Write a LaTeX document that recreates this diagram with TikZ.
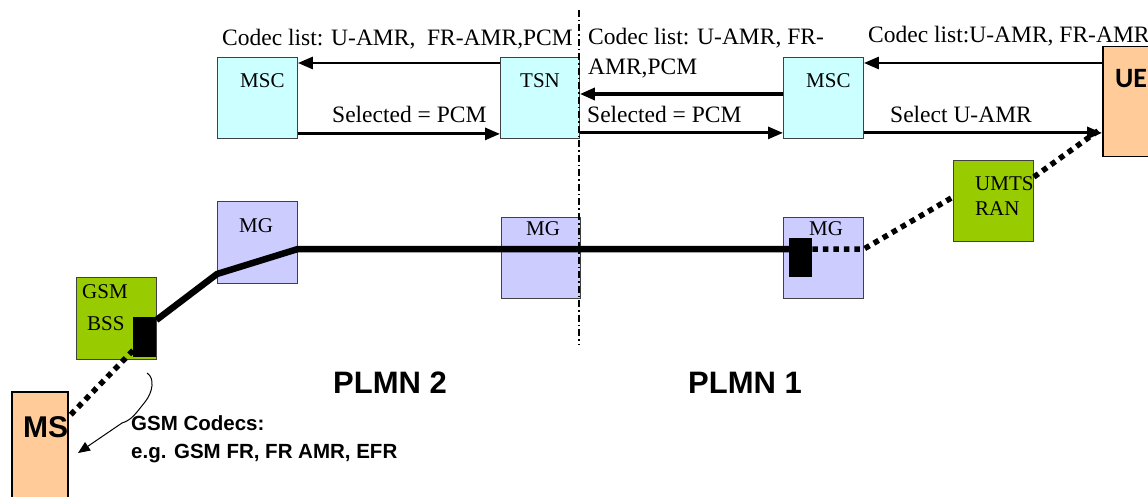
\documentclass[tikz,border=0pt]{standalone}
\usepackage{fontspec}
\setmainfont{Liberation Serif}
\setsansfont{Liberation Sans}
\newfontfamily\calibri{Carlito}
\usepackage{xcolor}
\usepackage{tikz}
\usetikzlibrary{
  positioning,
  calc,
  arrows.meta
}

\definecolor{corecyan}{HTML}{CCFFFF}
\definecolor{mgblue}{HTML}{CCCCFF}
\definecolor{rangreen}{HTML}{99CC00}
\definecolor{termpeach}{HTML}{FFCC99}

\begin{document}
\begin{tikzpicture}[x=1pt,y=-1pt,
  box/.style={draw=black!75,line width=0.9pt,anchor=north west,inner sep=0pt,
    minimum width=80pt,minimum height=81pt},
  lbl/.style={anchor=base west,inner sep=0pt,font=\fontsize{21}{25}\selectfont},
  msgtxt/.style={anchor=base west,inner sep=0pt,font=\fontsize{23.5}{28}\selectfont},
  sftext/.style={anchor=base west,inner sep=0pt,font=\sffamily\bfseries\fontsize{#1}{#1}\selectfont},
  msg/.style={line width=2.8pt,-{Triangle[length=15pt,width=12pt]}},
  trunk/.style={line width=6.5pt},
  radio/.style={line width=5.5pt,dash pattern=on 5.5pt off 5pt},
  pad/.style={fill=black,anchor=north west,inner sep=0pt,minimum width=23pt,minimum height=40pt}
]
  \useasboundingbox (0,0) rectangle (1148,497);
  \clip (0,0) rectangle (1148,497);

  % 箱の定義
  \node[box,fill=corecyan] (mscL) at (217,57) {};
  \node[box,fill=corecyan,minimum width=79pt] (tsn) at (500,57) {};
  \node[box,fill=corecyan] (mscR) at (783,57) {};
  \node[box,fill=termpeach,draw=black,line width=1.5pt,minimum width=60pt,minimum height=110pt] (ue) at (1102,46) {};
  \node[box,fill=mgblue,minimum height=82pt] (mg1) at (217,201) {};
  \node[box,fill=mgblue,minimum width=79pt] (mg2) at (501,217) {};
  \node[box,fill=mgblue] (mg3) at (783,217) {};
  \node[box,fill=rangreen] (umts) at (953,160) {};
  \node[box,fill=rangreen,minimum height=82pt] (bss) at (76,277) {};
  \node[box,fill=termpeach,draw=black,line width=1.5pt,minimum width=56pt,minimum height=120pt] (ms) at (11,391) {};

  % 箱の名前
  \node[lbl] (mscLt) at ($(mscL.north west)+(23,31)$) {MSC};
  \node[lbl] (tsnt) at ($(tsn.north west)+(20,31)$) {TSN};
  \node[lbl] (mscRt) at ($(mscR.north west)+(23,31)$) {MSC};
  \node[lbl] (mg1t) at ($(mg1.north west)+(22,32)$) {MG};
  \node[lbl] (mg2t) at ($(mg2.north west)+(25,19)$) {MG};
  \node[lbl] (mg3t) at ($(mg3.north west)+(26,18)$) {MG};
  \node[lbl] (umtst) at ($(umts.north west)+(22,30)$) {UMTS};
  \node[lbl] (rant) at ($(umts.north west)+(22,55)$) {RAN};
  \node[lbl] (bsst1) at ($(bss.north west)+(6,21)$) {GSM};
  \node[lbl] (bsst2) at ($(bss.north west)+(11,53)$) {BSS};
  \node[sftext=30] (mst) at ($(ms.north west)+(12,46)$) {MS};
  \node[anchor=base west,inner sep=0pt,font=\calibri\bfseries\fontsize{28}{28}\selectfont] (uet) at ($(ue.north west)+(13,42)$) {UE};

  % シグナリング
  \coordinate (r1) at ([yshift=-6pt]mscR.north east);
  \coordinate (r2) at ([yshift=6pt]mscR.south east);
  \draw[msg] ([yshift=-6pt]tsn.north west) -- ([yshift=-6pt]mscL.north east);
  \draw[msg] ([yshift=5pt]mscL.south east) -- ([yshift=5pt]tsn.south west);
  \draw[msg,line width=3.4pt] ([yshift=-37pt]mscR.north west) -- ([yshift=-37pt]tsn.north east);
  \draw[msg] ([yshift=6pt]tsn.south east) -- ([yshift=6pt]mscR.south west);
  \draw[msg] (ue.west |- r1) -- (r1);
  \draw[msg] (r2) -- (ue.west |- r2);

  \node[msgtxt] (cl1) at (222,46) {Codec list: U-AMR,~ FR-AMR,PCM};
  \node[msgtxt] (cl2a) at (588,45) {Codec list: U-AMR, FR-};
  \node[msgtxt] (cl2b) at (588,75) {AMR,PCM};
  \node[msgtxt] (cl3) at (868,43) {Codec list:U-AMR, FR-AMR};
  \node[msgtxt] (sel1) at (332,123) {Selected = PCM};
  \node[msgtxt] (sel2) at (587,123) {Selected = PCM};
  \node[msgtxt] (sel3) at (890,123) {Select U-AMR};

  % 伝送路
  \node[pad] (bssp) at (133,317) {};
  \node[pad,minimum height=39pt] (mgp) at (789,238) {};
  \coordinate (k1) at ([yshift=-73pt]mg1.north west);
  \coordinate (k2) at ([yshift=-48pt]mg1.north east);
  \draw[trunk] ([yshift=-3pt]bssp.north east) -- (k1) -- (k2) -- (mgp.center |- k2);
  \draw[radio] (mgp.east |- k2) -- (mg3.east |- k2) -- ([yshift=-37pt]umts.north west);
  \draw[radio] ([yshift=-17pt]umts.north east) -- ([yshift=-82pt]ue.north west);
  \draw[radio] ([yshift=7pt]bssp.south west) -- ([yshift=-26pt]ms.north east);

  % 区切り線
  \coordinate (sepT) at (579,10);
  \coordinate (sepB) at (579,345);
  \draw[line width=1.5pt,dash pattern=on 7pt off 3pt on 1.5pt off 3pt] (sepT) -- (sepB);

  % 網の名前
  \node[sftext=31] (plmn2) at (333,393) {PLMN 2};
  \node[sftext=31] (plmn1) at (688,393) {PLMN 1};

  % GSMコーデック
  \coordinate (br1) at (147,373);
  \coordinate (br2) at (122,423);
  \coordinate (gsmc) at (78,453);
  \draw[line width=1pt] (br1) .. controls (155,378) and (153,392) .. (145,402)
    .. controls (136,413) and (132,420) .. (br2);
  \draw[line width=1pt,-{Triangle[length=12pt,width=10pt]}] (br2) -- (gsmc);
  \node[sftext=20.5] (codec1) at (131,430) {GSM Codecs:};
  \node[sftext=20.5] (codec2) at (131,458) {e.g. GSM FR, FR AMR, EFR};
\end{tikzpicture}
\end{document}
